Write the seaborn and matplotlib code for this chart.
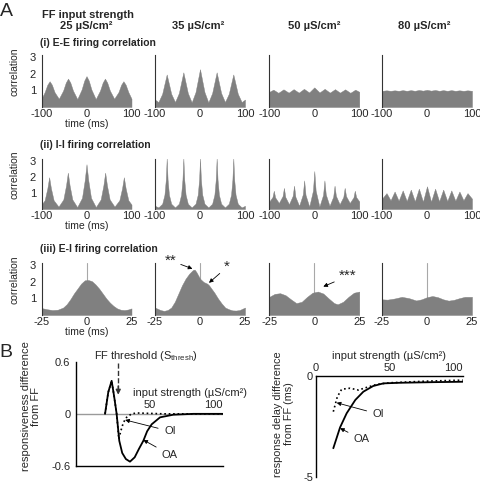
import matplotlib
matplotlib.use("Agg")
import matplotlib.pyplot as plt
import seaborn as sns

W, H = 481, 484

# ---- panel A: correlograms, time (ms) vs correlation ----
STRENGTHS = ["25 µS/cm²", "35 µS/cm²", "50 µS/cm²", "80 µS/cm²"]
ROW_TITLES = ["(i) E-E firing correlation", "(ii) I-I firing correlation",
              "(iii) E-I firing correlation"]

# (i) E-E
T_EE25 = [-100, -93, -87, -82, -77, -71, -61.5, -52, -46, -41, -36, -30, -20.5, -11, -5, 0,
          5, 11, 20.5, 30, 36, 41, 46, 52, 61.5, 71, 77, 82, 87, 93, 100]
V_EE25 = [0.5, 0.9, 1.35, 1.56, 1.35, 0.9, 0.5, 0.99, 1.48, 1.72, 1.48, 0.99, 0.48, 1.05, 1.6, 1.87,
          1.6, 1.05, 0.48, 0.99, 1.48, 1.72, 1.48, 0.99, 0.5, 0.9, 1.35, 1.56, 1.35, 0.9, 0.5]
T_EE35 = [-100, -92.5, -84, -79, -74, -69, -64, -55.5, -47, -42, -37, -32, -27, -18.5, -10, -5, 0,
          5, 10, 18.5, 27, 32, 37, 42, 47, 55.5, 64, 69, 74, 79, 84, 92.5, 100]
V_EE35 = [0.45, 0.3, 0.8, 1.39, 1.97, 1.39, 0.8, 0.3, 0.84, 1.47, 2.1, 1.47, 0.84, 0.28, 0.9, 1.59, 2.29,
          1.59, 0.9, 0.28, 0.84, 1.47, 2.1, 1.47, 0.84, 0.3, 0.8, 1.39, 1.97, 1.39, 0.8, 0.3, 0.45]
T_EE50 = [-100, -91, -80, -68.5, -57, -46, -34.5, -23, -11.5, 0, 11.5, 23, 34.5, 46, 57, 68.5, 80, 91, 100]
V_EE50 = [0.92, 1.05, 0.86, 1.07, 0.87, 1.08, 0.87, 1.1, 0.88, 1.19, 0.88, 1.1, 0.87, 1.08, 0.87, 1.07,
          0.86, 1.05, 0.92]
T_EE80 = [-100, -90, -81, -72, -63, -54, -45, -36, -27, -18, -9, 0, 9, 18, 27, 36, 45, 54, 63, 72, 81, 90, 100]
V_EE80 = [0.98, 1.01, 0.98, 1.01, 0.98, 1.02, 0.98, 1.02, 0.98, 1.03, 0.99, 1.04, 0.99, 1.03, 0.98, 1.02,
          0.98, 1.02, 0.98, 1.01, 0.98, 1.01, 0.98]

# (ii) I-I
T_II25 = [-100, -93, -87, -83, -79, -73, -62.25, -51.5, -45.5, -41.5, -37.5, -31.5, -20.75, -10, -4, 0,
          4, 10, 20.75, 31.5, 37.5, 41.5, 45.5, 51.5, 62.25, 73, 79, 83, 87, 93, 100]
V_II25 = [0.28, 0.55, 1.3, 2.0, 1.3, 0.55, 0.15, 0.6, 1.48, 2.29, 1.48, 0.6, 0.12, 0.7, 1.8, 2.82,
          1.8, 0.7, 0.12, 0.6, 1.48, 2.29, 1.48, 0.6, 0.15, 0.55, 1.3, 2.0, 1.3, 0.55, 0.28]
T_II35 = [-100, -92.5, -84, -79, -76, -74, -72, -69, -64, -55.5, -47, -42, -39, -37, -35, -32, -27,
          -18.5, -10, -5, -2, 0, 2, 5, 10, 18.5, 27, 32, 35, 37, 39, 42, 47, 55.5,
          64, 69, 72, 74, 76, 79, 84, 92.5, 100]
V_II35 = [0.2, 0.1, 0.33, 0.9, 1.85, 3.2, 1.85, 0.9, 0.33, 0.1, 0.33, 0.9, 1.85, 3.2, 1.85, 0.9, 0.33,
          0.1, 0.33, 0.9, 1.85, 3.2, 1.85, 0.9, 0.33, 0.1, 0.33, 0.9, 1.85, 3.2, 1.85, 0.9, 0.33, 0.1,
          0.33, 0.9, 1.85, 3.2, 1.85, 0.9, 0.33, 0.1, 0.2]
T_II50 = [-100, -93, -90, -87, -78.75, -70.5, -67.5, -64.5, -56.25, -48, -45, -42, -33.75, -25.5, -22.5,
          -19.5, -11.25, -3, 0, 3, 11.25, 19.5, 22.5, 25.5, 33.75, 42, 45, 48, 56.25, 64.5, 67.5, 70.5,
          78.75, 87, 90, 93, 100]
V_II50 = [0.47, 0.75, 1.15, 0.73, 0.38, 0.81, 1.33, 0.76, 0.3, 0.83, 1.47, 0.77, 0.2, 0.92, 1.8,
          0.89, 0.15, 1.16, 2.39, 1.16, 0.15, 0.89, 1.8, 0.92, 0.2, 0.77, 1.47, 0.83, 0.3, 0.76, 1.33, 0.81,
          0.38, 0.73, 1.15, 0.75, 0.47]
T_II80 = [-100, -90, -81, -72, -63, -54, -45, -36, -27, -18, -9, 0, 9, 18, 27, 36, 45, 54, 63, 72, 81, 90, 100]
V_II80 = [0.65, 1.0, 0.55, 1.1, 0.52, 1.17, 0.5, 1.22, 0.48, 1.28, 0.46, 1.43, 0.46, 1.28, 0.48, 1.22,
          0.5, 1.17, 0.52, 1.1, 0.55, 1.0, 0.65]

# (iii) E-I
T_EI25 = [-25, -22, -19, -16, -13, -11, -9, -7, -5, -3, -1, 1, 3, 5, 7, 9, 11, 13, 15, 17, 19, 21, 23, 25]
V_EI25 = [0.42, 0.35, 0.3, 0.32, 0.45, 0.65, 0.95, 1.3, 1.6, 1.9, 2.1, 2.12, 2.05, 1.85, 1.6, 1.3, 1.0,
          0.75, 0.55, 0.4, 0.32, 0.3, 0.33, 0.4]
T_EI35 = [-25, -22, -20, -18, -16, -14, -12, -10, -8, -6, -4, -3, -2, -1, 0, 1, 2, 3, 4, 5, 6, 8, 10,
          12, 14, 16, 18, 20, 22, 25]
V_EI35 = [0.45, 0.3, 0.25, 0.3, 0.45, 0.8, 1.3, 1.8, 2.2, 2.5, 2.72, 2.75, 2.6, 2.4, 2.2, 2.1, 2.0,
          1.95, 1.9, 1.8, 1.65, 1.35, 1.0, 0.7, 0.45, 0.35, 0.28, 0.27, 0.3, 0.45]
T_EI50 = [-25, -22, -19, -16, -13, -10, -7, -4, -1, 2, 5, 8, 11, 13, 16, 19, 22, 25]
V_EI50 = [1.1, 1.28, 1.32, 1.2, 0.95, 0.72, 0.8, 1.1, 1.35, 1.42, 1.3, 1.0, 0.72, 0.65, 0.8, 1.1, 1.35, 1.42]
T_EI80 = [-25, -22, -18, -14, -10, -6, -3, 0, 3, 6, 9, 12, 15, 18, 21, 25]
V_EI80 = [0.95, 0.93, 1.0, 1.1, 1.02, 0.88, 0.95, 1.08, 1.15, 1.08, 0.95, 0.87, 0.92, 1.02, 1.1, 1.1]

# ---- panel B: input strength (µS/cm²) ----
RESP_X_OA = [19.8, 22, 24.3, 26, 27.7, 29.5, 31.5, 34, 36.8, 40, 43, 45.9, 48.5, 51.6, 57.3, 66.3, 80, 100]
RESP_OA = [0, 0.25, 0.38, 0.2, 0, -0.31, -0.45, -0.52, -0.55, -0.5, -0.4, -0.31, -0.2, -0.12, -0.04,
           -0.01, 0, 0]
RESP_X_OI = [19.8, 22, 24.3, 26, 27.7, 29.2, 30.5, 32.3, 34.5, 37.9, 41.3, 60, 100]
RESP_OI = [0, 0.25, 0.38, 0.2, 0, -0.29, -0.2, -0.1, -0.04, 0, 0.01, 0, 0]
DELAY_X_OA = [11.8, 16.4, 20.9, 26.8, 32.3, 39, 45.9, 57.3, 80, 100]
DELAY_OA = [-3.59, -2.56, -1.86, -1.2, -0.79, -0.51, -0.38, -0.35, -0.32, -0.3]
DELAY_X_OI = [11.8, 14.5, 17.5, 23.2, 28.9, 34.5, 41.4, 50.5, 75, 100]
DELAY_OI = [-1.78, -1.05, -0.67, -0.62, -0.71, -0.58, -0.43, -0.35, -0.27, -0.22]
FF_THRESH = 28.8

GRAY = "#808080"
COL_X = [41.5, 155, 269.3, 382]
COL_W = 90
ROW_Y = [(55, 107), (159, 209), (263, 315)]

sns.set_style("white")
plt.rcParams["font.family"] = ["Liberation Sans", "DejaVu Sans"]
plt.rcParams["axes.unicode_minus"] = False
plt.rcParams["mathtext.fontset"] = "custom"
plt.rcParams["mathtext.rm"] = "Liberation Sans"

fig = plt.figure(figsize=(W / 100, H / 100), dpi=100)


def add_ax(x0, y0, x1, y1):
    return fig.add_axes([x0 / W, 1 - y1 / H, (x1 - x0) / W, (y1 - y0) / H])


def ftext(x, y, s, **kw):
    fig.text(x / W, 1 - y / H, s, **kw)


ROWS = [
    [(T_EE25, V_EE25), (T_EE35, V_EE35), (T_EE50, V_EE50), (T_EE80, V_EE80)],
    [(T_II25, V_II25), (T_II35, V_II35), (T_II50, V_II50), (T_II80, V_II80)],
    [(T_EI25, V_EI25), (T_EI35, V_EI35), (T_EI50, V_EI50), (T_EI80, V_EI80)],
]

axes_a = []
for r, row in enumerate(ROWS):
    y0, y1 = ROW_Y[r]
    lim = 25 if r == 2 else 100
    ax_row = []
    for c, (t, v) in enumerate(row):
        ax = add_ax(COL_X[c], y0, COL_X[c] + COL_W, y1)
        if r == 2:
            ax.axvline(0, color="#a8a8a8", lw=0.8, zorder=0)
        ax.fill_between(t, v, 0, color=GRAY, lw=0.3, zorder=1)
        ax.set_xlim(-lim, lim)
        ax.set_ylim(0, 3.15)
        ax.set_xticks([-lim, 0, lim])
        ax.set_xticklabels([str(-lim), "0", str(lim)])
        ax.set_yticks([1, 2, 3])
        ax.tick_params(axis="x", length=0, pad=1.5, labelsize=8)
        ax.tick_params(axis="y", length=2, direction="in", pad=4, labelsize=8)
        for s in ["top", "right", "bottom"]:
            ax.spines[s].set_visible(False)
        ax.spines["left"].set_color("#333333")
        ax.spines["left"].set_linewidth(0.8)
        if c == 0:
            ax.set_ylabel("correlation", fontsize=7.5, labelpad=0)
            ax.yaxis.set_label_coords(-0.25, 0.68)
            ax.set_xlabel("time (ms)", fontsize=7.5, labelpad=0)
        else:
            ax.set_yticklabels([])
        ax_row.append(ax)
    axes_a.append(ax_row)

# headings
ftext(6, 12, "A", fontsize=14, ha="center", va="center")
ftext(88.5, 15, "FF input strength", fontsize=8, fontweight="bold", ha="center", va="center")
for x, s in zip([86.5, 198, 314.5, 424], STRENGTHS):
    ftext(x, 26, s, fontsize=8, fontweight="bold", ha="center", va="center")
for y, s in zip([43.5, 145, 249], ROW_TITLES):
    ftext(39.5, y, s, fontsize=7.5, fontweight="bold", ha="left", va="center")

# stars on E-I panels
arrow_kw = dict(arrowstyle="-|>", lw=0.6, color="black", mutation_scale=6, shrinkA=1, shrinkB=0)
axes_a[2][1].annotate("**", xy=(-4.2, 2.8), xytext=(-16.5, 3.3), fontsize=11, ha="center", va="center",
                      arrowprops=arrow_kw, annotation_clip=False)
axes_a[2][1].annotate("*", xy=(5, 1.95), xytext=(15, 2.9), fontsize=11, ha="center", va="center",
                      arrowprops=arrow_kw, annotation_clip=False)
axes_a[2][2].annotate("***", xy=(5, 1.72), xytext=(18.5, 2.35), fontsize=11, ha="center", va="center",
                      arrowprops=arrow_kw, annotation_clip=False)

# ---- panel B left: responsiveness ----
ftext(6, 352.5, "B", fontsize=14, ha="center", va="center")
axL = add_ax(76, 361.7, 222.7, 466)
axL.axhline(0, color="#9a9a9a", lw=1, zorder=0)
sns.lineplot(x=RESP_X_OA, y=RESP_OA, ax=axL, color="black", lw=1.3)
sns.lineplot(x=RESP_X_OI, y=RESP_OI, ax=axL, color="black", lw=1.2, linestyle=":")
axL.set_xlim(0, 100)
axL.set_ylim(-0.6, 0.6)
axL.set_xticks([])
axL.set_yticks([-0.6, 0, 0.6])
axL.set_yticklabels(["-0.6", "0", "0.6"])
axL.tick_params(axis="y", length=0, pad=4, labelsize=8)
for s in ["top", "right"]:
    axL.spines[s].set_visible(False)
for s in ["left", "bottom"]:
    axL.spines[s].set_color("black")
    axL.spines[s].set_linewidth(1)
for xt, ha in [(50, "center"), (100, "right")]:
    axL.text(xt, 0.04, str(xt), fontsize=8, ha=ha, va="bottom")
axL.text(39, 0.24, "input strength (µS/cm²)", fontsize=8, ha="left", va="center", clip_on=False)
axL.text(47.5, 0.66, r"FF threshold (S$_{\rm thresh}$)", fontsize=8, ha="center", va="center", clip_on=False)
axL.plot([FF_THRESH, FF_THRESH], [0.59, 0.3], color="#333333", lw=1, ls="--")
axL.annotate("", xy=(FF_THRESH, 0.22), xytext=(FF_THRESH, 0.32),
             arrowprops=dict(arrowstyle="-|>", lw=1, color="#333333", mutation_scale=7, shrinkA=0, shrinkB=0))
axL.set_ylabel("responsiveness difference\nfrom FF", fontsize=8, linespacing=1.0)
axL.yaxis.set_label_coords(-0.24, 0.57)
axL.annotate("OI", xy=(33.5, -0.07), xytext=(64, -0.2), fontsize=8, ha="center", va="center",
             arrowprops=dict(arrowstyle="-|>", lw=0.6, color="black", mutation_scale=6, shrinkA=2, shrinkB=0))
axL.annotate("OA", xy=(45.9, -0.3), xytext=(64, -0.47), fontsize=8, ha="center", va="center",
             arrowprops=dict(arrowstyle="-|>", lw=0.6, color="black", mutation_scale=6, shrinkA=2, shrinkB=0))

# ---- panel B right: response delay ----
axR = add_ax(316, 375.7, 462.7, 476.7)
sns.lineplot(x=DELAY_X_OA, y=DELAY_OA, ax=axR, color="black", lw=1.3)
sns.lineplot(x=DELAY_X_OI, y=DELAY_OI, ax=axR, color="black", lw=1.2, linestyle=":")
axR.set_xlim(0, 100)
axR.set_ylim(-5, 0)
axR.xaxis.tick_top()
axR.set_xticks([0, 50, 100])
axR.set_yticks([-5, 0])
axR.set_yticklabels(["-5", "0"])
axR.tick_params(axis="both", length=0, pad=2, labelsize=8)
axR.xaxis.set_label_position("top")
axR.set_xlabel("input strength (µS/cm²)", fontsize=8, labelpad=3)
for s in ["bottom", "right"]:
    axR.spines[s].set_visible(False)
for s in ["left", "top"]:
    axR.spines[s].set_color("black")
    axR.spines[s].set_linewidth(1)
axR.get_xticklabels()[-1].set_ha("right")
axR.set_ylabel("response delay difference\nfrom FF (ms)", fontsize=7.8, linespacing=1.15)
axR.yaxis.set_label_coords(-0.15, 0.62)
axR.annotate("OI", xy=(14.1, -1.34), xytext=(42.5, -1.9), fontsize=8, ha="center", va="center",
             arrowprops=dict(arrowstyle="-|>", lw=0.6, color="black", mutation_scale=6, shrinkA=2, shrinkB=0))
axR.annotate("OA", xy=(16.4, -2.6), xytext=(31.2, -3.15), fontsize=8, ha="center", va="center",
             arrowprops=dict(arrowstyle="-|>", lw=0.6, color="black", mutation_scale=6, shrinkA=2, shrinkB=0))

fig.savefig("out.png", dpi=100)
